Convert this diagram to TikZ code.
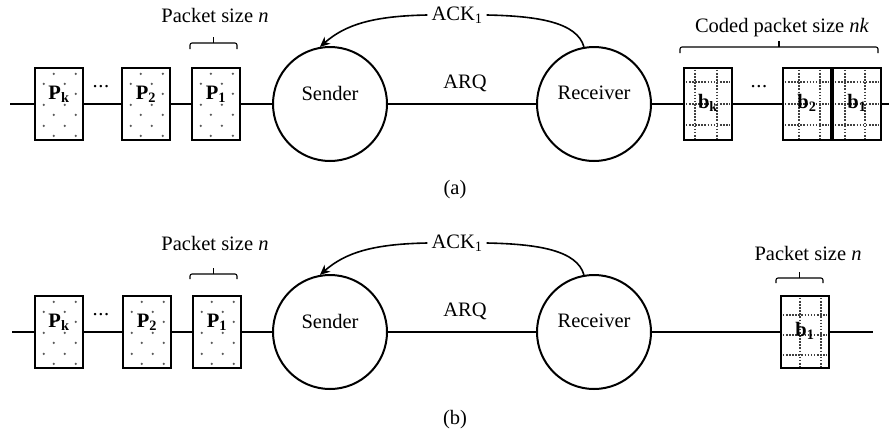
\documentclass[tikz,border=0pt]{standalone}
\usepackage{fontspec}
\setmainfont{Liberation Serif}
\usetikzlibrary{arrows.meta}
% scattered dots inside a plain packet box
\newcommand\pktdots[1]{%
  \begin{scope}[shift={(#1.north west)}]
    \foreach \yy/\xa/\xb in {7/20/42,17/10/31,27/20/42,38/10/31,48/20/42,59/10/31,69/20/42}
      \fill[black!65] (\xa,\yy) circle (1.25pt) (\xb,\yy) circle (1.25pt);
  \end{scope}}
% dotted grid inside a coded packet box: two columns, three rows
\newcommand\pktgrid[6]{%
  \begin{scope}[shift={(#1.north west)}]
    \draw[gridline] (#2,3) -- (#2,72) (#3,3) -- (#3,72)
                    (3,#4) -- (47,#4) (3,#5) -- (47,#5) (3,#6) -- (47,#6);
  \end{scope}}
\begin{document}
\begin{tikzpicture}[x=1pt,y=-1pt,
  txt/.style={font=\fontsize{20.5}{24}\selectfont, inner sep=2pt},
  btxt/.style={font=\fontsize{20.5}{24}\selectfont\bfseries, inner sep=0pt},
  wire/.style={line width=2pt},
  brk/.style={line width=1.1pt, rounded corners=2pt},
  ackline/.style={line width=1.6pt},
  gridline/.style={draw=black!75, line width=1.6pt, dash pattern=on 1.6pt off 1.5pt},
  pkt/.style={draw, line width=2.3pt, fill=white, minimum width=48pt, minimum height=72pt, inner sep=0pt},
  station/.style={draw, circle, line width=2pt, fill=white, minimum size=114pt, inner sep=0pt},
]
\path[use as bounding box] (0,0) rectangle (889,434);

% ---------------- (a) ARQ with coded packets ----------------
\coordinate (a-l) at (10,104);
\coordinate (a-r) at (889,104);
\node[pkt] (a-pk) at (59,104) {};
\node[pkt] (a-p2) at (146,104) {};
\node[pkt] (a-p1) at (216,104) {};
\node[station, label={[txt,yshift=11pt]center:Sender}] (a-snd) at (330,104) {};
\node[station, label={[txt,yshift=11pt]center:Receiver}] (a-rcv) at (594,104) {};
\node[pkt] (a-bk) at (708,104) {};
\node[pkt] (a-b2) at (807,104) {};
\node[pkt] (a-b1) at (857,104) {};

\pktdots{a-pk}\pktdots{a-p2}\pktdots{a-p1}
\pktgrid{a-bk}{12}{34}{15}{37}{58}
\pktgrid{a-b2}{17}{38}{15}{37}{58}
\pktgrid{a-b1}{13}{33}{15}{37}{58}

\node[btxt] (a-tpk) at ([yshift=10pt]a-pk.center) {P\textsubscript{k}};
\node[btxt] (a-tp2) at ([yshift=10pt]a-p2.center) {P\textsubscript{2}};
\node[btxt] (a-tp1) at ([yshift=10pt]a-p1.center) {P\textsubscript{1}};
\node[btxt] (a-tbk) at ([yshift=1pt]a-bk.center) {b\textsubscript{k}};
\node[btxt] (a-tb2) at ([yshift=1pt]a-b2.center) {b\textsubscript{2}};
\node[btxt] (a-tb1) at ([yshift=1pt]a-b1.center) {b\textsubscript{1}};

\draw[wire] (a-l) -- (a-pk);
\draw[wire] (a-pk) -- (a-p2);
\draw[wire] (a-p2) -- (a-p1);
\draw[wire] (a-p1) -- (a-snd);
\draw[wire] (a-snd) -- (a-rcv);
\draw[wire] (a-rcv) -- (a-bk);
\draw[wire] (a-bk) -- (a-b2);
\draw[wire] (a-b1) -- (a-r);

\node[txt] (a-dots1) at (101,87) {.\kern0.6pt.\kern0.6pt.};
\node[txt] (a-dots2) at (759,87) {.\kern0.6pt.\kern0.6pt.};
\node[txt] (a-arq) at (465,83) {ARQ};
\node[txt, inner sep=4pt] (a-ack) at (457,15) {ACK\textsubscript{1}};
\draw[ackline] (a-rcv.100) .. controls (577,22) and (537,16) .. (a-ack.east);
\draw[ackline, -{Stealth[length=10pt,width=9pt,inset=3pt]}] (a-ack.west) .. controls (372,16) and (345,25) .. (a-snd.100);

\node[txt] (a-size) at (215,15) {Packet size \textit{n}};
\draw[brk] (190,49) |- (237,43) -- (237,49);
\draw[brk] (213.5,43) -- (213.5,37);
\node[txt] (a-csize) at (782,28) {Coded packet size \textit{nk}};
\draw[brk] (680,53) |- (878,47) -- (878,53);
\draw[brk] (779,47) -- (779,41);
\node[txt] (a-cap) at (455,190) {(a)};

% ---------------- (b) ARQ with a single packet ----------------
\begin{scope}[shift={(0,228)}]
\coordinate (b-l) at (12,104);
\coordinate (b-r) at (873,104);
\node[pkt] (b-pk) at (59,104) {};
\node[pkt] (b-p2) at (147,104) {};
\node[pkt] (b-p1) at (217,104) {};
\node[station, label={[txt,yshift=11pt]center:Sender}] (b-snd) at (330,104) {};
\node[station, label={[txt,yshift=11pt]center:Receiver}] (b-rcv) at (594,104) {};
\node[pkt] (b-b1) at (805,104) {};

\pktdots{b-pk}\pktdots{b-p2}\pktdots{b-p1}
\pktgrid{b-b1}{20}{41}{20}{40}{60}

\node[btxt] (b-tpk) at ([yshift=10pt]b-pk.center) {P\textsubscript{k}};
\node[btxt] (b-tp2) at ([yshift=10pt]b-p2.center) {P\textsubscript{2}};
\node[btxt] (b-tp1) at ([yshift=10pt]b-p1.center) {P\textsubscript{1}};
\node[btxt] (b-tb1) at ([yshift=1pt]b-b1.center) {b\textsubscript{1}};

\draw[wire] (b-l) -- (b-pk);
\draw[wire] (b-pk) -- (b-p2);
\draw[wire] (b-p2) -- (b-p1);
\draw[wire] (b-p1) -- (b-snd);
\draw[wire] (b-snd) -- (b-rcv);
\draw[wire] (b-rcv) -- (b-b1);
\draw[wire] (b-b1) -- (b-r);

\node[txt] (b-dots1) at (101,87) {.\kern0.6pt.\kern0.6pt.};
\node[txt] (b-arq) at (465,83) {ARQ};
\node[txt, inner sep=4pt] (b-ack) at (457,15) {ACK\textsubscript{1}};
\draw[ackline] (b-rcv.100) .. controls (577,22) and (537,16) .. (b-ack.east);
\draw[ackline, -{Stealth[length=10pt,width=9pt,inset=3pt]}] (b-ack.west) .. controls (372,16) and (345,25) .. (b-snd.100);

\node[txt] (b-size) at (215,15) {Packet size \textit{n}};
\draw[brk] (190,51) |- (237,46) -- (237,51);
\draw[brk] (213.5,46) -- (213.5,40);
\node[txt] (b-size2) at (808,25) {Packet size \textit{n}};
\draw[brk] (776,55) |- (823,50) -- (823,55);
\draw[brk] (799.5,50) -- (799.5,44);
\node[txt] (b-cap) at (455,192) {(b)};
\end{scope}
\end{tikzpicture}
\end{document}
